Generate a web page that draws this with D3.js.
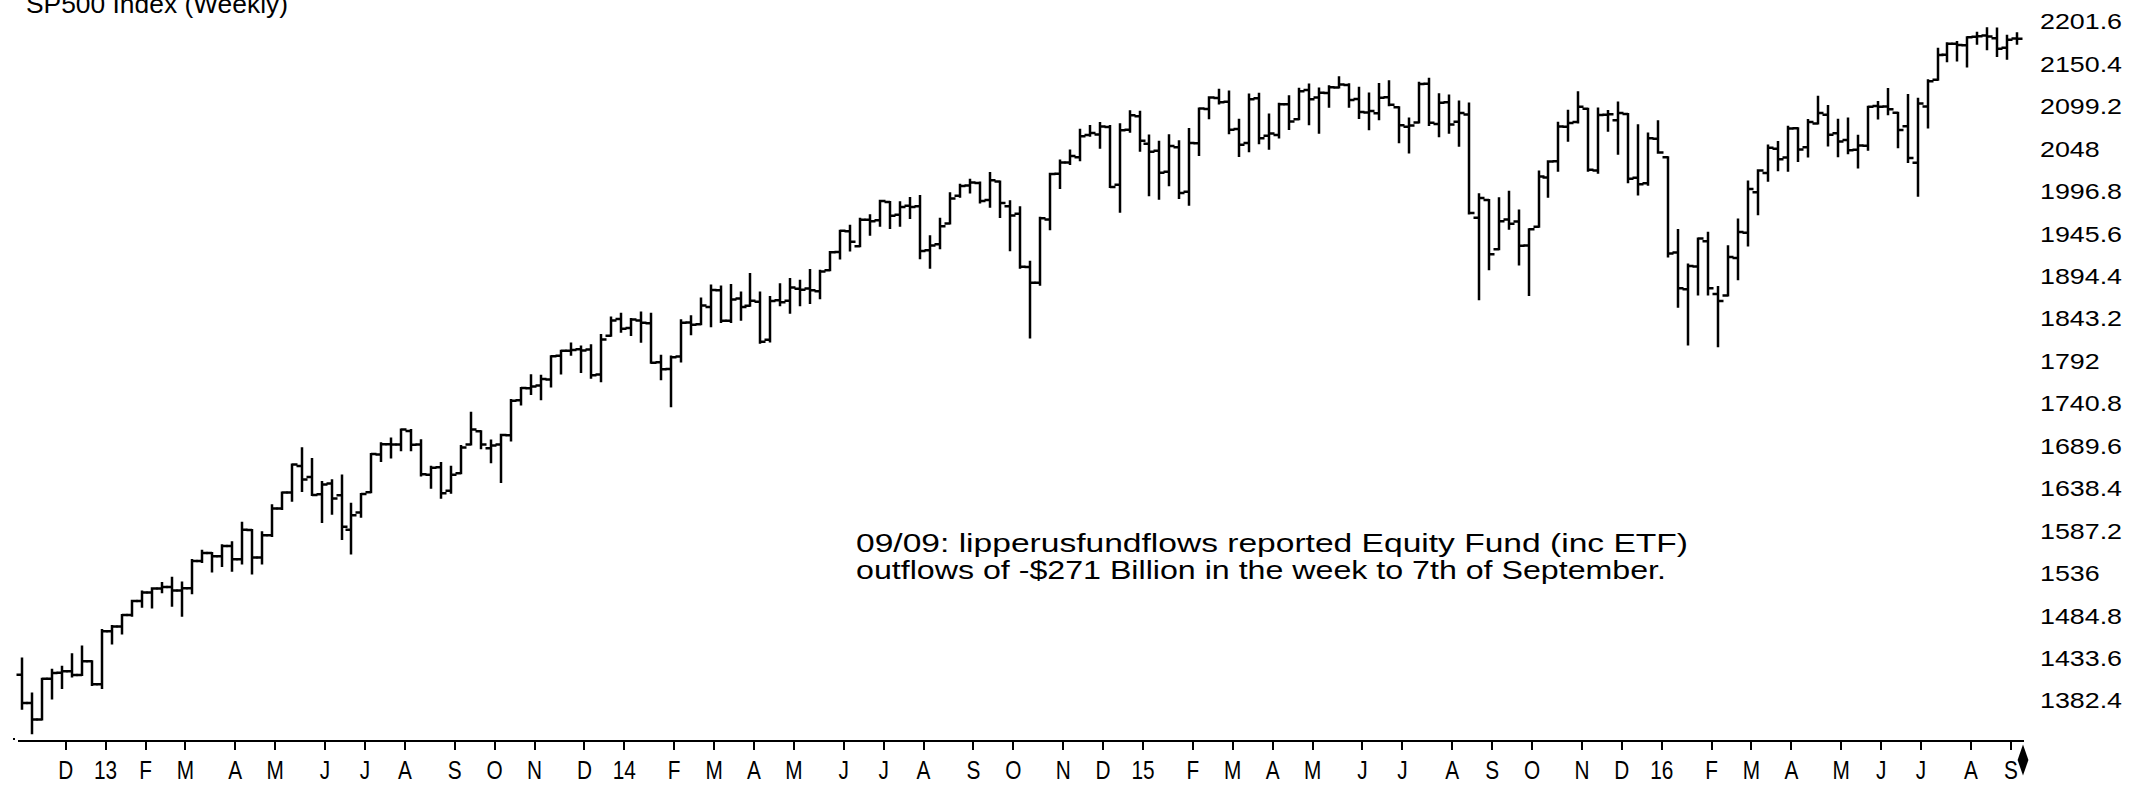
<!DOCTYPE html>
<html>
<head>
<meta charset="utf-8">
<script src="https://cdn.jsdelivr.net/npm/d3@7"></script>
<style>
  html, body { margin: 0; padding: 0; background: #fff; overflow: hidden; }
  svg { display: block; font-family: "Liberation Sans", Arial, sans-serif; }
</style>
</head>
<body>
<svg id="chart" width="2147" height="790"></svg>
<script>
// Weekly OHLC, week ending Nov 9 2012 .. Sep 9 2016 (last week partial)
const open = [
  1414.0, 1379.9, 1359.9, 1409.2, 1416.3, 1418.1, 1413.5, 1430.1, 1402.4, 1466.5,
  1472.1, 1486.0, 1503.0, 1513.2, 1517.9, 1519.8, 1515.6, 1518.2, 1551.2, 1560.7,
  1556.9, 1569.2, 1553.3, 1588.6, 1555.3, 1582.3, 1614.4, 1633.7, 1665.7, 1652.6,
  1631.7, 1644.7, 1630.6, 1588.8, 1609.8, 1634.2, 1679.6, 1692.1, 1691.7, 1708.0,
  1691.7, 1655.3, 1664.3, 1636.0, 1656.9, 1691.7, 1707.6, 1687.3, 1691.7, 1702.8,
  1745.2, 1759.4, 1763.0, 1770.0, 1798.8, 1804.8, 1806.6, 1806.2, 1776.0, 1822.9,
  1843.0, 1832.3, 1841.3, 1837.9, 1791.0, 1782.7, 1798.0, 1838.8, 1836.8, 1857.7,
  1877.9, 1841.1, 1867.7, 1859.2, 1863.9, 1818.2, 1865.8, 1865.0, 1879.5, 1880.0,
  1876.7, 1902.0, 1923.9, 1949.0, 1930.9, 1962.9, 1962.3, 1984.2, 1968.9, 1979.8,
  1979.0, 1926.1, 1933.4, 1958.4, 1991.7, 2004.1, 2007.2, 1986.5, 2009.1, 1979.0,
  1970.0, 1905.7, 1886.8, 1963.0, 2018.2, 2032.0, 2038.3, 2065.1, 2065.8, 2074.8,
  2005.0, 2071.3, 2087.6, 2054.4, 2046.1, 2020.8, 2050.4, 1996.7, 2055.2, 2096.5,
  2109.8, 2105.2, 2072.3, 2055.4, 2109.3, 2064.1, 2064.9, 2102.0, 2084.1, 2119.3,
  2110.2, 2115.6, 2122.3, 2125.3, 2108.6, 2092.3, 2091.3, 2110.6, 2098.6, 2075.0,
  2080.0, 2126.8, 2078.2, 2104.5, 2081.0, 2089.7, 1965.2, 1986.7, 1927.3, 1963.1,
  1960.8, 1931.9, 1954.3, 2013.7, 2033.5, 2075.1, 2080.8, 2096.6, 2022.1, 2089.4,
  2082.9, 2090.4, 2013.4, 2006.8, 2060.6, 2038.2, 1923.3, 1878.9, 1906.3, 1936.9,
  1873.3, 1871.4, 1916.7, 1947.0, 1996.1, 2019.3, 2048.6, 2037.9, 2073.2, 2050.2,
  2078.8, 2089.4, 2067.2, 2058.9, 2047.2, 2052.2, 2100.1, 2099.3, 2091.8, 2075.6,
  2031.5, 2099.3, 2131.7, 2162.0, 2175.1, 2173.2, 2183.7, 2185.0, 2181.9, 2170.2,
  2181.6
];
const high = [
  1433.4, 1391.4, 1409.2, 1420.0, 1423.7, 1438.6, 1448.0, 1430.2, 1467.9, 1472.8,
  1486.0, 1503.3, 1514.4, 1518.3, 1524.7, 1530.9, 1525.3, 1552.5, 1563.6, 1560.7,
  1570.3, 1573.7, 1597.4, 1588.6, 1585.8, 1618.5, 1633.7, 1667.5, 1687.2, 1674.2,
  1646.5, 1648.7, 1654.2, 1620.1, 1632.1, 1680.2, 1693.1, 1698.8, 1709.7, 1709.2,
  1696.8, 1664.9, 1669.5, 1664.8, 1690.0, 1729.9, 1707.6, 1696.6, 1703.4, 1745.3,
  1759.8, 1775.2, 1774.5, 1798.2, 1804.8, 1813.6, 1810.0, 1811.5, 1823.8, 1844.9,
  1849.4, 1843.2, 1850.8, 1849.3, 1798.8, 1798.0, 1841.7, 1846.5, 1867.9, 1883.6,
  1882.4, 1884.0, 1875.2, 1897.3, 1875.0, 1869.6, 1884.9, 1891.3, 1889.1, 1902.2,
  1901.3, 1924.0, 1949.4, 1955.6, 1963.9, 1968.2, 1985.6, 1984.2, 1983.9, 1989.2,
  1991.4, 1942.9, 1964.0, 1994.8, 2005.0, 2011.2, 2007.7, 2019.3, 2009.1, 1985.2,
  1977.8, 1912.1, 1965.3, 2018.2, 2034.3, 2046.2, 2071.5, 2075.8, 2079.5, 2075.8,
  2077.9, 2093.6, 2093.0, 2064.4, 2056.9, 2064.6, 2057.6, 2072.4, 2097.0, 2110.6,
  2119.6, 2117.5, 2083.5, 2113.9, 2114.9, 2089.8, 2102.6, 2111.9, 2120.9, 2125.9,
  2121.0, 2123.9, 2134.7, 2126.2, 2121.9, 2115.0, 2126.7, 2129.9, 2098.6, 2085.0,
  2128.0, 2132.8, 2114.2, 2112.7, 2105.4, 2102.9, 1993.5, 1986.7, 1988.6, 1996.7,
  1974.0, 1951.4, 2020.9, 2033.5, 2079.7, 2094.3, 2116.5, 2096.6, 2097.0, 2094.1,
  2104.3, 2090.4, 2076.7, 2067.0, 2081.6, 2038.2, 1950.3, 1908.9, 1940.2, 1947.2,
  1881.6, 1930.7, 1963.0, 2009.1, 2022.4, 2052.4, 2056.6, 2075.1, 2073.2, 2083.0,
  2111.1, 2099.9, 2083.4, 2084.9, 2064.0, 2099.1, 2105.0, 2120.6, 2091.8, 2113.3,
  2108.7, 2131.0, 2169.1, 2175.6, 2177.1, 2182.9, 2188.5, 2193.8, 2193.4, 2184.9,
  2187.9
];
const low = [
  1373.0, 1343.4, 1359.9, 1385.4, 1398.1, 1411.9, 1413.5, 1401.6, 1398.1, 1451.6,
  1463.8, 1485.0, 1496.0, 1495.0, 1513.6, 1497.3, 1485.0, 1512.3, 1550.1, 1538.6,
  1545.1, 1539.5, 1548.0, 1536.0, 1548.0, 1581.3, 1614.0, 1623.7, 1635.5, 1630.7,
  1598.2, 1608.1, 1577.7, 1560.3, 1604.6, 1634.2, 1671.8, 1676.0, 1684.9, 1684.9,
  1654.2, 1639.4, 1627.5, 1633.4, 1656.9, 1691.7, 1687.2, 1670.4, 1646.5, 1696.6,
  1740.0, 1752.7, 1746.2, 1761.6, 1777.2, 1800.0, 1779.1, 1772.3, 1768.0, 1822.9,
  1827.7, 1823.7, 1815.5, 1790.3, 1770.5, 1737.9, 1791.8, 1824.6, 1836.8, 1834.4,
  1839.6, 1839.5, 1842.1, 1859.2, 1814.4, 1815.8, 1859.7, 1850.6, 1859.8, 1862.4,
  1868.1, 1902.0, 1916.0, 1925.8, 1930.9, 1944.7, 1955.6, 1952.9, 1955.6, 1965.0,
  1916.4, 1904.8, 1928.3, 1958.4, 1990.5, 1995.8, 1983.5, 1978.5, 1966.0, 1926.0,
  1905.0, 1820.7, 1884.5, 1951.4, 2001.0, 2030.0, 2034.5, 2064.0, 2049.6, 2002.3,
  1972.6, 2069.0, 2046.0, 1992.4, 1988.1, 2004.5, 1989.2, 1980.9, 2041.0, 2085.4,
  2103.0, 2067.3, 2039.7, 2045.5, 2055.0, 2048.4, 2062.0, 2072.4, 2084.1, 2077.9,
  2067.9, 2099.2, 2122.3, 2099.2, 2085.7, 2072.1, 2084.0, 2101.0, 2056.3, 2044.0,
  2080.0, 2077.0, 2063.5, 2067.9, 2052.1, 1970.5, 1867.0, 1903.1, 1927.3, 1952.0,
  1908.8, 1871.9, 1954.3, 1990.7, 2022.0, 2058.0, 2080.0, 2022.0, 2019.4, 2070.3,
  2042.4, 2008.0, 1993.3, 2005.0, 2043.6, 1918.5, 1857.8, 1812.3, 1872.7, 1872.7,
  1810.1, 1871.4, 1891.0, 1931.8, 1969.3, 2010.0, 2022.5, 2022.0, 2033.8, 2039.0,
  2078.8, 2052.3, 2039.5, 2043.1, 2025.9, 2047.3, 2085.0, 2090.0, 2050.4, 2032.6,
  1991.7, 2074.0, 2131.7, 2154.0, 2155.0, 2147.6, 2175.0, 2168.5, 2160.4, 2157.1,
  2175.0
];
const close = [
  1379.9, 1359.9, 1409.2, 1416.2, 1418.1, 1413.6, 1430.2, 1402.4, 1466.5, 1472.1,
  1486.0, 1503.0, 1513.2, 1517.9, 1519.8, 1515.6, 1518.2, 1551.2, 1560.7, 1556.9,
  1569.2, 1553.3, 1588.9, 1555.3, 1582.2, 1614.4, 1633.7, 1667.5, 1649.6, 1630.7,
  1643.4, 1626.7, 1592.4, 1606.3, 1631.9, 1680.2, 1692.1, 1691.7, 1709.7, 1691.4,
  1655.8, 1663.5, 1633.0, 1655.2, 1688.0, 1709.9, 1691.8, 1690.5, 1703.2, 1744.5,
  1759.8, 1761.6, 1770.6, 1798.2, 1804.8, 1805.8, 1805.1, 1775.3, 1818.3, 1841.4,
  1831.4, 1842.4, 1838.7, 1790.3, 1782.6, 1797.0, 1838.6, 1836.3, 1859.5, 1878.0,
  1841.1, 1866.5, 1857.6, 1865.1, 1815.7, 1864.9, 1863.4, 1881.1, 1878.5, 1877.9,
  1900.5, 1923.6, 1949.4, 1936.2, 1962.9, 1961.0, 1985.4, 1967.6, 1978.2, 1978.3,
  1925.2, 1931.6, 1955.1, 1988.4, 2003.4, 2007.7, 1985.5, 2010.4, 1982.9, 1967.9,
  1906.1, 1886.8, 1964.6, 2018.1, 2031.9, 2039.8, 2063.5, 2067.6, 2075.4, 2002.3,
  2070.7, 2088.8, 2058.2, 2044.8, 2019.4, 2051.8, 1995.0, 2055.5, 2097.0, 2110.3,
  2104.5, 2071.3, 2053.4, 2108.1, 2061.0, 2067.0, 2102.1, 2081.2, 2117.7, 2108.3,
  2116.1, 2122.7, 2126.1, 2107.4, 2092.8, 2094.1, 2110.0, 2101.5, 2076.8, 2076.6,
  2126.6, 2079.7, 2103.8, 2077.6, 2091.5, 1970.9, 1988.9, 1921.2, 1961.1, 1958.0,
  1931.3, 1951.4, 2014.9, 2033.1, 2075.2, 2079.4, 2099.2, 2023.0, 2089.2, 2090.1,
  2091.7, 2012.4, 2005.6, 2061.0, 2043.9, 1922.0, 1880.3, 1906.9, 1940.2, 1880.1,
  1864.8, 1917.8, 1948.1, 2000.0, 2022.2, 2049.6, 2035.9, 2072.8, 2047.6, 2080.7,
  2091.6, 2065.3, 2057.1, 2046.6, 2052.3, 2099.1, 2099.1, 2096.1, 2071.2, 2037.4,
  2103.0, 2129.9, 2161.7, 2175.0, 2173.6, 2182.9, 2184.1, 2183.9, 2169.0, 2180.0,
  2181.3
];

// first weekly bar of each month gets a tick; January shows the year
const monthLabels = [
  "D", "13", "F", "M", "A", "M", "J", "J", "A", "S", "O", "N",
  "D", "14", "F", "M", "A", "M", "J", "J", "A", "S", "O", "N",
  "D", "15", "F", "M", "A", "M", "J", "J", "A", "S", "O", "N",
  "D", "16", "F", "M", "A", "M", "J", "J", "A", "S"
];

const priceLabels = [
  2201.6, 2150.4, 2099.2, 2048, 1996.8, 1945.6, 1894.4, 1843.2, 1792,
  1740.8, 1689.6, 1638.4, 1587.2, 1536, 1484.8, 1433.6, 1382.4
];

const title = "SP500 Index (Weekly)";
const note = [
  "09/09: lipperusfundflows reported Equity Fund (inc ETF)",
  "outflows of -$271 Billion in the week to 7th of September."
];

const svg = d3.select("#chart");

// weekly categories (Fridays)
const weeks = d3.timeFriday.range(new Date(2012, 10, 5), new Date(2016, 8, 10));
const bars = weeks.map((d, i) => ({ date: d, o: open[i], h: high[i], l: low[i], c: close[i] }));

const x = d3.scaleTime()
  .domain([weeks[0], weeks[weeks.length - 1]])
  .range([22.3, 2017.3]);

const y = d3.scaleLinear()
  .domain([1382.4, 2201.6])
  .range([700.9, 21.8]);

// OHLC bars: open tick left, close tick right
svg.append("g")
  .attr("stroke", "#000")
  .attr("stroke-width", 2.5)
  .attr("fill", "none")
  .selectAll("path")
  .data(bars)
  .join("path")
  .attr("d", (d) => {
    const px = Math.round(x(d.date));
    return `M${px},${y(d.h) - 1}V${y(d.l) + 1}` +
      `M${px - 5.5},${y(d.o)}H${px}` +
      `M${px},${y(d.c)}H${px + 5.5}`;
  });

// time axis
const tickDates = weeks.filter((d, i) => i > 0 && d.getMonth() !== weeks[i - 1].getMonth());

svg.append("line")
  .attr("x1", 18).attr("x2", 2024)
  .attr("y1", 741).attr("y2", 741)
  .attr("stroke", "#000").attr("stroke-width", 2)
  .attr("shape-rendering", "crispEdges");

svg.append("rect")
  .attr("x", 13).attr("y", 738).attr("width", 2).attr("height", 2)
  .attr("fill", "#000");

const xAxis = svg.append("g")
  .attr("transform", "translate(3,741)")
  .call(
    d3.axisBottom(x)
      .tickValues(tickDates)
      .tickFormat((d, i) => monthLabels[i])
      .tickSize(9)
      .tickSizeOuter(0)
      .tickPadding(11)
  );
xAxis.select(".domain").remove();
xAxis.selectAll(".tick line")
  .attr("stroke", "#000")
  .attr("stroke-width", 2)
  .attr("shape-rendering", "crispEdges");
xAxis.selectAll(".tick text")
  .attr("fill", "#000")
  .attr("font-family", "'Liberation Sans', Arial, sans-serif")
  .attr("font-size", 26)
  .attr("transform", "scale(0.8,1)");

// end-of-data marker on the axis
svg.append("path")
  .attr("d", d3.symbol(d3.symbolDiamond, 280)())
  .attr("transform", "translate(2023,760) scale(0.6,1)")
  .attr("fill", "#000");

// price axis on the right
const yAxis = svg.append("g")
  .attr("transform", "translate(2040,0)")
  .call(
    d3.axisRight(y)
      .tickValues(priceLabels)
      .tickFormat((d) => String(d))
      .tickSize(0)
      .tickPadding(0)
  );
yAxis.select(".domain").remove();
yAxis.selectAll(".tick text")
  .attr("fill", "#000")
  .attr("font-family", "'Liberation Sans', Arial, sans-serif")
  .attr("font-size", 22)
  .attr("transform", "scale(1.22,1)");

// title, clipped by the top edge as in the source
svg.append("text")
  .attr("x", 26)
  .attr("y", 13)
  .attr("font-size", 26)
  .attr("textLength", 262)
  .attr("lengthAdjust", "spacingAndGlyphs")
  .attr("fill", "#000")
  .text(title);

// annotation
svg.append("g")
  .attr("font-size", 25)
  .attr("fill", "#000")
  .selectAll("text")
  .data(note)
  .join("text")
  .attr("x", 856)
  .attr("y", (d, i) => 552 + i * 27)
  .attr("textLength", (d, i) => (i === 0 ? 832 : 810))
  .attr("lengthAdjust", "spacingAndGlyphs")
  .text((d) => d);
</script>
</body>
</html>
